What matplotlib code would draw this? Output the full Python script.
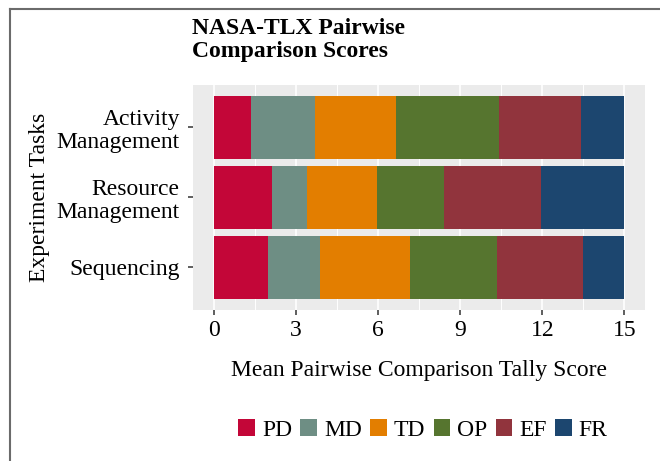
import numpy as np
import matplotlib
matplotlib.use('Agg')
import matplotlib.pyplot as plt
from matplotlib.lines import Line2D
from matplotlib.ticker import MultipleLocator

tasks = ['Activity\nManagement', 'Resource\nManagement', 'Sequencing']
dims = ['PD', 'MD', 'TD', 'OP', 'EF', 'FR']
colors = ['#C30638', '#6E8E84', '#E37E00', '#56752F', '#91343D', '#1C466F']

# mean tally per dimension, rows follow tasks
pd_vals = [1.35, 2.15, 2.00]
md_vals = [2.37, 1.27, 1.89]
td_vals = [2.95, 2.55, 3.28]
op_vals = [3.75, 2.44, 3.17]
ef_vals = [2.99, 3.53, 3.13]
fr_vals = [1.59, 3.06, 1.53]
series = [pd_vals, md_vals, td_vals, op_vals, ef_vals, fr_vals]

plt.rcParams['font.family'] = ['Liberation Serif', 'DejaVu Serif']

W, H = 660, 461
fig = plt.figure(figsize=(6.6, 4.61), dpi=100)
ax = fig.add_axes([193/W, 1-309.5/H, (645-193)/W, (309.5-85)/H])
ax.set_facecolor('#EBEBEB')

ypos = np.array([3, 2, 1])
left = np.zeros(3)
for name, vals, c in zip(dims, series, colors):
    ax.barh(ypos, vals, left=left, height=0.9, color=c, label=name, zorder=3)
    left += np.array(vals)

ax.set_xlim(-0.75, 15.75)
ax.set_ylim(0.4, 3.6)
ax.xaxis.set_major_locator(MultipleLocator(3))
ax.xaxis.set_minor_locator(MultipleLocator(1.5))
ax.grid(axis='x', which='major', color='white', lw=1.2, zorder=1)
ax.grid(axis='x', which='minor', color='white', lw=0.7, zorder=1)
ax.set_yticks(ypos)
ax.set_yticklabels(tasks, fontsize=17, linespacing=1.15)
ax.tick_params(axis='x', labelsize=17, length=3.5, width=1.1, color='#333333', pad=4)
ax.tick_params(axis='x', which='minor', length=0)
ax.tick_params(axis='y', length=3.5, width=1.1, color='#333333', pad=6)
for s in ax.spines.values():
    s.set_visible(False)

ax.set_xlabel('Mean Pairwise Comparison Tally Score', fontsize=17, labelpad=14)
ax.set_ylabel('Experiment Tasks', fontsize=17, labelpad=5)

fig.text(192/W, 1-18/H, 'NASA-TLX Pairwise\nComparison Scores', fontsize=17,
         fontweight='bold', ha='left', va='top', linespacing=1.12)

ax.legend(loc='center', bbox_to_anchor=(423/W, 1-430/H), bbox_transform=fig.transFigure,
          ncol=6, frameon=False, fontsize=17, handlelength=0.7, handleheight=0.7,
          handletextpad=0.3, columnspacing=0.35, borderaxespad=0)

fig.add_artist(Line2D([9.5/W, 9.5/W], [0, 1-9/H], color='#6B6B6B', lw=1.5))
fig.add_artist(Line2D([9.5/W, 1], [1-9/H, 1-9/H], color='#6B6B6B', lw=1.5))

fig.savefig('out.png', dpi=100)
